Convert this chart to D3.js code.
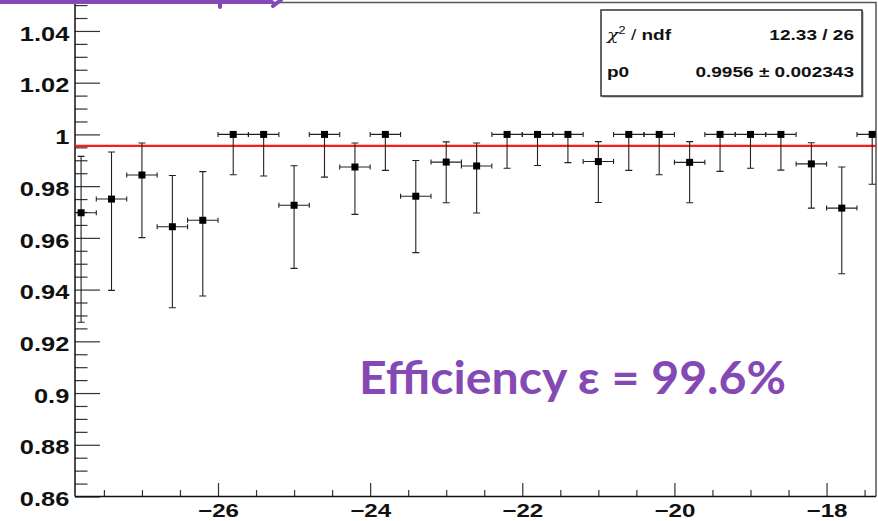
<!DOCTYPE html>
<html>
<head>
<meta charset="utf-8">
<script src="https://cdn.jsdelivr.net/npm/d3@7"></script>
<style>
  body { margin: 0; background: #fff; }
  svg { display: block; }
</style>
</head>
<body>
<div id="container"></div>
<script>
// bin centres (x) and efficiency with asymmetric errors
const binCenters = [-27.8, -27.4, -27.0, -26.6, -26.2, -25.8, -25.4, -25.0, -24.6, -24.2,
                    -23.8, -23.4, -23.0, -22.6, -22.2, -21.8, -21.4, -21.0, -20.6, -20.2,
                    -19.8, -19.4, -19.0, -18.6, -18.2, -17.8, -17.4];
const effValues = [0.9697, 0.975, 0.9843, 0.9643, 0.9668, 1.0, 1.0, 0.9726, 1.0, 0.9874,
                   1.0, 0.9761, 0.9893, 0.9878, 1.0, 1.0, 1.0, 0.9895, 1.0, 1.0,
                   0.9892, 1.0, 1.0, 1.0, 0.9886, 0.9715, 1.0];
const errLow = [0.0423, 0.0353, 0.0242, 0.0313, 0.0293, 0.0156, 0.0161, 0.0244, 0.0165, 0.0183,
                0.0139, 0.0218, 0.0157, 0.0182, 0.0131, 0.0120, 0.0109, 0.0158, 0.0139, 0.0156,
                0.0156, 0.0143, 0.0131, 0.0138, 0.0171, 0.0254, 0.0193];
const errHigh = [0.0218, 0.0182, 0.0124, 0.0198, 0.0188, 0, 0, 0.0153, 0, 0.0093,
                 0, 0.0138, 0.0078, 0.0089, 0, 0, 0, 0.0077, 0, 0,
                 0.008, 0, 0, 0, 0.0082, 0.0159, 0];
const binHalfWidth = 0.2;
const fitValue = 0.9956;
const statsValues = ["12.33 / 26", "0.9956 \u00b1 0.002343"];
const headline = "Efficiency \u03b5 = 99.6%";

const width = 878;
const height = 521;
const frame = {left: 75, right: 876, top: 2.5, bottom: 496.5};
const stretch = 1.27;   // ROOT canvas text looks widened in the screenshot
const rootFont = "'Liberation Sans', Arial, sans-serif";

const data = binCenters.map((c, i) => ({
  x: c, y: effValues[i], lo: errLow[i], hi: errHigh[i]
}));

const svg = d3.select("#container").append("svg")
  .attr("width", width)
  .attr("height", height);

const x = d3.scaleLinear().domain([-27.88, -17.35]).range([frame.left, frame.right]);
const y = d3.scaleLinear().domain([0.86, 1.051]).range([frame.bottom, frame.top]);

svg.append("clipPath").attr("id", "plotclip")
  .append("rect")
  .attr("x", frame.left).attr("y", frame.top)
  .attr("width", frame.right - frame.left)
  .attr("height", frame.bottom - frame.top);

// frame (top + right)
svg.append("path")
  .attr("d", `M${frame.left},${frame.top}H${frame.right}V${frame.bottom}`)
  .attr("fill", "none")
  .attr("stroke", "#555")
  .attr("stroke-width", 1.5);

// y axis, ticks pointing into the frame
const yMajor = y.ticks(10);
const yMinor = y.ticks(40).filter(v => !yMajor.some(m => Math.abs(m - v) < 1e-9));
const yAxisG = svg.append("g").attr("transform", `translate(${frame.left},0)`);
yAxisG.call(d3.axisLeft(y).tickValues(yMinor).tickSize(-12.5).tickFormat(""))
  .call(g => g.select(".domain").remove());
yAxisG.append("g")
  .call(d3.axisLeft(y).tickValues(yMajor).tickSize(-25).tickPadding(4.5)
    .tickFormat(d => String(+d.toFixed(2))))
  .call(g => g.select(".domain").remove());
yAxisG.selectAll("line").attr("stroke", "#333").attr("stroke-width", 1.2);
yAxisG.selectAll("text")
  .attr("font-family", rootFont)
  .attr("font-weight", "bold")
  .attr("font-size", 20)
  .attr("fill", "#111")
  .attr("dy", "0.46em")
  .attr("transform", `scale(${stretch},1)`);
yAxisG.append("line")
  .attr("y1", frame.top).attr("y2", frame.bottom)
  .attr("stroke", "#111").attr("stroke-width", 1.5);

// x axis
const xMajor = x.ticks(5);
const xMinor = x.ticks(20).filter(v => !xMajor.some(m => Math.abs(m - v) < 1e-9));
const xAxisG = svg.append("g").attr("transform", `translate(0,${frame.bottom})`);
xAxisG.call(d3.axisBottom(x).tickValues(xMinor).tickSize(-6.5).tickFormat(""))
  .call(g => g.select(".domain").remove());
xAxisG.append("g")
  .call(d3.axisBottom(x).tickValues(xMajor).tickSize(-13.5).tickPadding(7)
    .tickFormat(d => "\u2212" + Math.abs(d)))
  .call(g => g.select(".domain").remove());
xAxisG.selectAll("line").attr("stroke", "#333").attr("stroke-width", 1.2);
xAxisG.selectAll("text")
  .attr("font-family", rootFont)
  .attr("font-weight", "bold")
  .attr("font-size", 19)
  .attr("fill", "#111")
  .attr("transform", `scale(${stretch},1)`);
xAxisG.append("line")
  .attr("x1", frame.left).attr("x2", frame.right)
  .attr("stroke", "#111").attr("stroke-width", 1.5);

// fit line
const plot = svg.append("g").attr("clip-path", "url(#plotclip)");
plot.append("line")
  .attr("x1", x.range()[0]).attr("x2", x.range()[1])
  .attr("y1", y(fitValue)).attr("y2", y(fitValue))
  .attr("stroke", "#ff1a1a")
  .attr("stroke-width", 2.2);

// error bars + markers
const pts = plot.selectAll(".pt").data(data).join("g").attr("class", "pt");
const barColor = "#222";
pts.append("line")
  .attr("x1", d => x(d.x - binHalfWidth)).attr("x2", d => x(d.x + binHalfWidth))
  .attr("y1", d => y(d.y)).attr("y2", d => y(d.y))
  .attr("stroke", barColor).attr("stroke-width", 1.1);
pts.append("line")
  .attr("x1", d => x(d.x)).attr("x2", d => x(d.x))
  .attr("y1", d => y(d.y + d.hi)).attr("y2", d => y(d.y - d.lo))
  .attr("stroke", barColor).attr("stroke-width", 1.1);
// caps
pts.append("path")
  .attr("d", d => {
    const cx = x(d.x), cy = y(d.y);
    const xl = x(d.x - binHalfWidth), xr = x(d.x + binHalfWidth);
    let s = `M${xl},${cy - 2.5}V${cy + 2.5}M${xr},${cy - 2.5}V${cy + 2.5}`;
    s += `M${cx - 3.5},${y(d.y - d.lo)}H${cx + 3.5}`;
    if (d.hi > 0) s += `M${cx - 3.5},${y(d.y + d.hi)}H${cx + 3.5}`;
    return s;
  })
  .attr("fill", "none")
  .attr("stroke", barColor).attr("stroke-width", 1.1);
pts.append("rect")
  .attr("x", d => x(d.x) - 3.5).attr("y", d => y(d.y) - 3.5)
  .attr("width", 7).attr("height", 7)
  .attr("fill", "#000");

// stats box
const box = svg.append("g").attr("transform", "translate(601,10)");
box.append("rect")
  .attr("x", 1.5).attr("y", 1.5).attr("width", 261).attr("height", 86)
  .attr("fill", "#999");
box.append("rect")
  .attr("width", 261).attr("height", 86)
  .attr("fill", "#fff").attr("stroke", "#333").attr("stroke-width", 1.5);
const rowY = [29.5, 66.5];

const chiLabel = box.append("text")
  .attr("transform", `translate(6,${rowY[0]}) scale(${stretch},1)`)
  .attr("font-family", rootFont)
  .attr("font-weight", "bold")
  .attr("font-size", 15)
  .attr("fill", "#111");
chiLabel.append("tspan")
  .attr("font-family", "'DejaVu Serif', serif")
  .attr("font-style", "italic")
  .attr("font-weight", "normal")
  .text("\u03c7");
chiLabel.append("tspan")
  .attr("font-size", 10).attr("font-weight", "normal").attr("dy", -6)
  .text("2");
chiLabel.append("tspan")
  .attr("dy", 6)
  .attr("font-weight", "normal")
  .text(" / ");
chiLabel.append("tspan").text("ndf");

box.append("text")
  .attr("transform", `translate(6,${rowY[1]}) scale(${stretch},1)`)
  .attr("font-family", rootFont)
  .attr("font-weight", "bold")
  .attr("font-size", 15)
  .attr("fill", "#111")
  .text("p0");

box.selectAll(".sval").data(statsValues).join("text")
  .attr("class", "sval")
  .attr("transform", (d, i) => `translate(253,${rowY[i]}) scale(${stretch},1)`)
  .attr("text-anchor", "end")
  .attr("font-family", rootFont)
  .attr("font-weight", "bold")
  .attr("font-size", 15)
  .attr("fill", "#111")
  .text(d => d);

// slide overlay: cut-off purple title strokes at the top
const purple = "#8549b5";
svg.append("path")
  .attr("d", "M0,2H272M220,0V7M273,6L281,0")
  .attr("fill", "none")
  .attr("stroke", purple)
  .attr("stroke-width", 4)
  .attr("stroke-linecap", "round");

svg.append("text")
  .attr("x", 359).attr("y", 394)
  .attr("font-family", "Lato, 'Open Sans', sans-serif")
  .attr("font-weight", "bold")
  .attr("font-size", 46)
  .attr("textLength", 427)
  .attr("lengthAdjust", "spacingAndGlyphs")
  .attr("fill", purple)
  .text(headline);
</script>
</body>
</html>
